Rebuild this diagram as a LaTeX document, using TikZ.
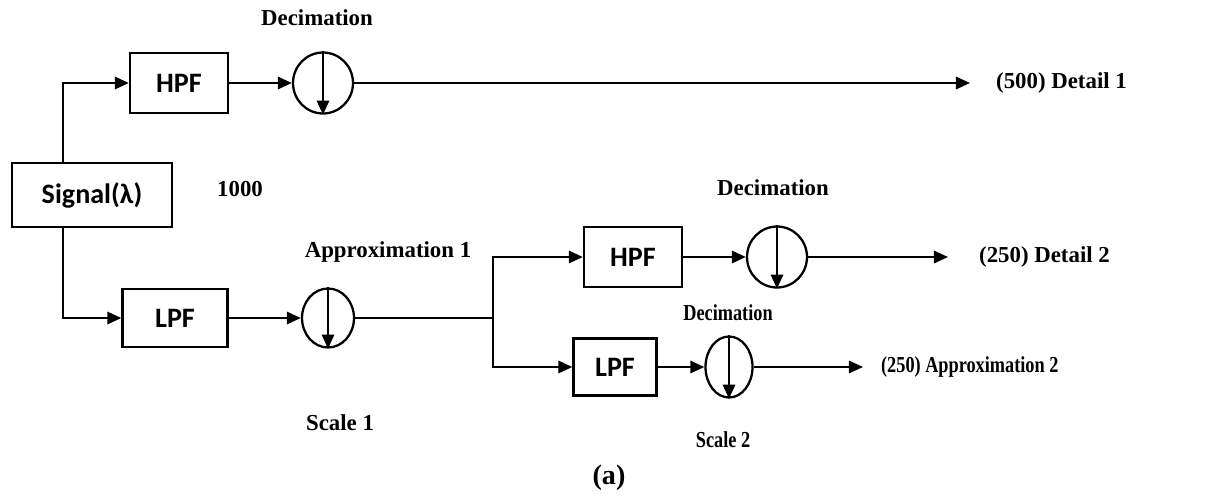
\documentclass[tikz,border=0pt]{standalone}
\usepackage{fontspec}
\setmainfont{Liberation Serif}
\newfontfamily\boxfont{Carlito}
\usetikzlibrary{arrows.meta,shapes.geometric}

\newcommand{\narrowtxt}[1]{\scalebox{0.8}[1]{#1}}

\tikzset{
  arr/.style={-{Triangle[length=8pt,width=7pt]}},
  filt/.style={draw, line width=1.3pt, minimum height=1.2cm, font=\boxfont\fontsize{16}{18}\selectfont\bfseries},
  dec/.style={draw, ellipse, line width=1.3pt, inner sep=0pt},
  lbl/.style={font=\fontsize{13}{15}\selectfont\bfseries, inner sep=0pt}
}

\begin{document}
\begin{tikzpicture}[x=0.02cm, y=-0.02cm, line width=1.3pt]
  \useasboundingbox (0,0) rectangle (1222,497);

  % Filter boxes
  \node[filt, minimum width=3.2cm, minimum height=1.28cm] (sig) at (92,195) {Signal(λ)};
  \node[filt, minimum width=1.96cm] (hpfa) at (179,83) {HPF};
  \node[filt, minimum width=2.1cm, minimum height=1.16cm] (lpfa) at (175,318) {LPF};
  \node[filt, minimum width=1.96cm] (hpfb) at (633,257) {HPF};
  \node[filt, minimum width=1.66cm, minimum height=1.14cm] (lpfb) at (615,367) {LPF};

  % Decimation circles
  \node[dec, minimum width=1.2cm, minimum height=1.22cm] (deca) at (323,83) {};
  \node[dec, minimum width=1.04cm, minimum height=1.18cm] (decb) at (328,318) {};
  \node[dec, minimum width=1.2cm, minimum height=1.22cm] (decc) at (777,257) {};
  \node[dec, minimum width=0.94cm, minimum height=1.22cm] (decd) at (729,367) {};
  \foreach \c in {deca,decb,decc,decd}
    \draw[arr] (\c.north) -- (\c.south);

  % Labels
  \node[lbl] (dlaba) at (317,18) {Decimation};
  \node[lbl] (num) at (240,189) {1000};
  \node[lbl] (appa) at (388,252) {Approximation 1};
  \node[lbl] (scla) at (340,423) {Scale 1};
  \node[lbl] (dlabb) at (773,188) {Decimation};
  \node[lbl] (dlabc) at (728,313) {\narrowtxt{Decimation}};
  \node[lbl] (sclb) at (723,440) {\narrowtxt{Scale 2}};
  \node[lbl, font=\fontsize{16}{18}\selectfont\bfseries] (cap) at (609,478) {(a)};
  \node[lbl, anchor=west] (outa) at (995,83) {(500) Detail 1};
  \node[lbl, anchor=west] (outb) at (978,257) {(250) Detail 2};
  \node[lbl, anchor=west] (outc) at (880,367) {\narrowtxt{(250) Approximation 2}};

  % First level
  \draw[arr] ([xshift=-0.58cm]sig.north) |- (hpfa);
  \draw[arr] ([xshift=-0.58cm]sig.south) |- (lpfa);
  \draw[arr] (hpfa) -- (deca);
  \draw[arr] (lpfa) -- (decb);
  \draw[arr] (deca) -- ([xshift=-0.5cm]outa.west);

  % Second level
  \coordinate (split) at (493,318);
  \draw (decb) -- (split);
  \draw[arr] (split) |- (hpfb);
  \draw[arr] (split) |- (lpfb);
  \draw[arr] (hpfb) -- (decc);
  \draw[arr] (lpfb) -- (decd);
  \draw[arr] (decc) -- ([xshift=-0.6cm]outb.west);
  \draw[arr] (decd) -- ([xshift=-0.34cm]outc.west);
\end{tikzpicture}
\end{document}
